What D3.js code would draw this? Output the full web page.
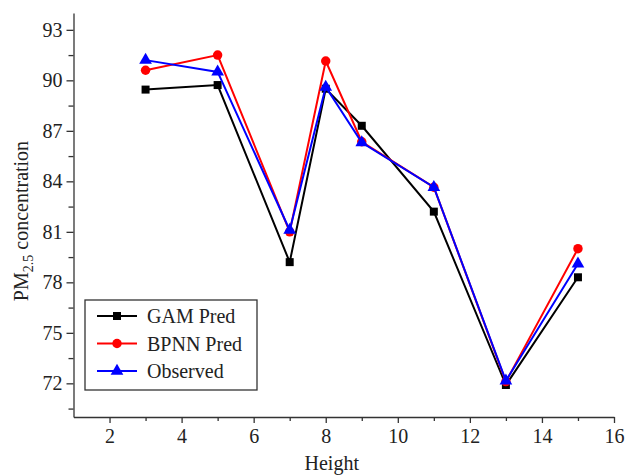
<!DOCTYPE html>
<html>
<head>
<meta charset="utf-8">
<script src="https://d3js.org/d3.v7.min.js"></script>
<style>
  body { margin: 0; background: #fff; }
  text { font-family: "Liberation Serif", "Times New Roman", serif; fill: #222; }
  .axis path, .axis line { stroke: #333; stroke-width: 1.3; }
</style>
</head>
<body>
<svg id="chart" width="628" height="476"></svg>
<script>
// data
var heights = [3, 5, 7, 8, 9, 11, 13, 15];
var gamPred = [89.45, 89.72, 79.2, 89.5, 87.3, 82.2, 71.9, 78.3];
var bpnnPred = [90.6, 91.5, 81.0, 91.15, 86.35, 83.65, 72.1, 80.0];
var observed = [91.2, 90.5, 81.1, 89.6, 86.3, 83.65, 72.15, 79.1];
var xTicks = [2, 4, 6, 8, 10, 12, 14, 16];
var yTicks = [72, 75, 78, 81, 84, 87, 90, 93];

var series = [
  { name: "GAM Pred", values: gamPred, color: "#000000", shape: d3.symbolSquare, size: 64 },
  { name: "BPNN Pred", values: bpnnPred, color: "#ff0000", shape: d3.symbolCircle, size: 70 },
  { name: "Observed", values: observed, color: "#0000ff", shape: d3.symbolTriangle, size: 70 }
];

var svg = d3.select("#chart");
var margin = { top: 13, right: 14, bottom: 59, left: 73.5 };
var width = 628 - margin.left - margin.right;
var height = 476 - margin.top - margin.bottom;

var g = svg.append("g")
  .attr("transform", "translate(" + margin.left + "," + margin.top + ")");

var x = d3.scaleLinear().domain([1, 16]).range([0, width]);
var y = d3.scaleLinear().domain([70, 94]).range([height, 0]);

// minor ticks first
g.append("g")
  .attr("class", "axis")
  .attr("transform", "translate(0," + height + ")")
  .call(d3.axisBottom(x).tickValues(d3.range(3, 16, 2)).tickSize(4).tickFormat(""))
  .select(".domain").remove();
g.append("g")
  .attr("class", "axis")
  .call(d3.axisLeft(y).tickValues(d3.range(70.5, 94, 3)).tickSize(5).tickFormat(""))
  .select(".domain").remove();

var xAxis = g.append("g")
  .attr("class", "axis")
  .attr("transform", "translate(0," + height + ")")
  .call(d3.axisBottom(x).tickValues(xTicks).tickSize(6).tickSizeOuter(0).tickPadding(6));
xAxis.selectAll("text").attr("font-size", 20);

var yAxis = g.append("g")
  .attr("class", "axis")
  .call(d3.axisLeft(y).tickValues(yTicks).tickSize(7).tickSizeOuter(0).tickPadding(4));
yAxis.selectAll("text").attr("font-size", 20);

// axis titles
g.append("text")
  .attr("x", width / 2 - 12)
  .attr("y", height + 53)
  .attr("text-anchor", "middle")
  .attr("font-size", 20)
  .text("Height");

var yl = g.append("text")
  .attr("transform", "translate(-46," + (height / 2 + 6) + ") rotate(-90)")
  .attr("text-anchor", "middle")
  .attr("font-size", 20);
yl.append("tspan").text("PM");
yl.append("tspan").attr("font-size", 14).attr("dy", 5).text("2.5");
yl.append("tspan").attr("dy", -5).text(" concentration");

var line = d3.line()
  .x(function(d, i) { return x(heights[i]); })
  .y(function(d) { return y(d); });

series.forEach(function(s) {
  g.append("path")
    .datum(s.values)
    .attr("fill", "none")
    .attr("stroke", s.color)
    .attr("stroke-width", 2)
    .attr("d", line);
  g.selectAll(null)
    .data(s.values)
    .enter().append("path")
    .attr("d", d3.symbol().type(s.shape).size(s.size))
    .attr("fill", s.color)
    .attr("transform", function(d, i) {
      return "translate(" + x(heights[i]) + "," + y(d) + ")";
    });
});

// legend
var legend = svg.append("g").attr("transform", "translate(85,300)");
legend.append("rect")
  .attr("width", 172)
  .attr("height", 90)
  .attr("fill", "#fff")
  .attr("stroke", "#333")
  .attr("stroke-width", 1.3);

series.forEach(function(s, i) {
  var row = legend.append("g").attr("transform", "translate(0," + (16 + i * 27.5) + ")");
  row.append("line")
    .attr("x1", 12).attr("x2", 52)
    .attr("stroke", s.color).attr("stroke-width", 2);
  row.append("path")
    .attr("d", d3.symbol().type(s.shape).size(s.size))
    .attr("fill", s.color)
    .attr("transform", "translate(32,0)");
  row.append("text")
    .attr("x", 62)
    .attr("dy", "0.35em")
    .attr("font-size", 20)
    .text(s.name);
});
</script>
</body>
</html>
